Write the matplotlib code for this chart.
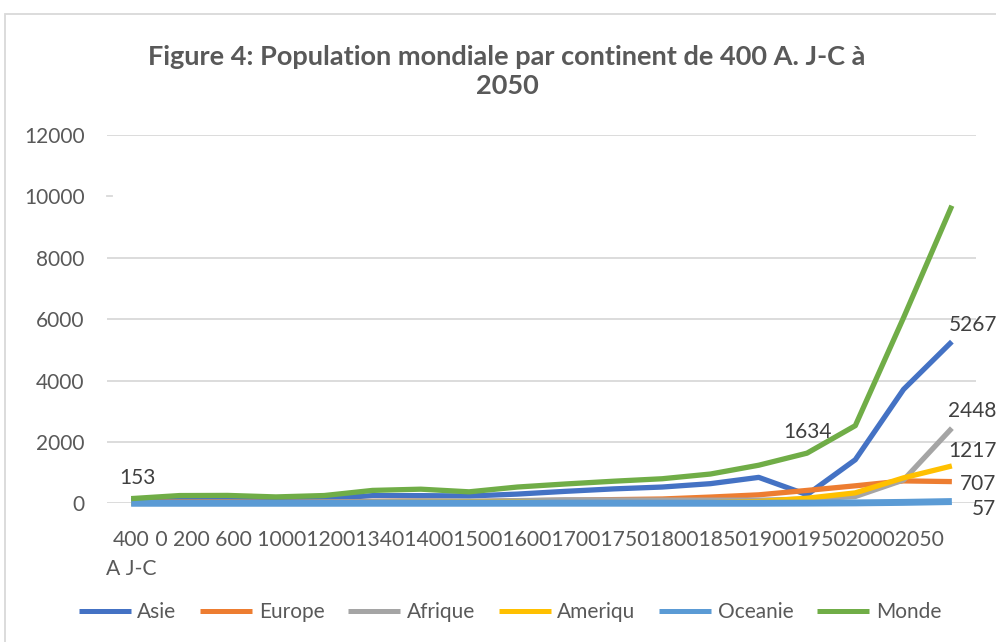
import matplotlib.pyplot as plt
from matplotlib.patches import Rectangle

# Population par continent (millions d'habitants)
annees = ["400 A J-C", "0", "200", "600", "1000", "1200", "1340", "1400", "1500",
          "1600", "1700", "1750", "1800", "1850", "1900", "1950", "2000", "2050"]
asie = [95, 170, 158, 134, 152, 250, 250, 238, 300, 390, 470, 530, 640, 845, 280, 1420, 3713, 5267]
europe = [32, 43, 46, 26, 43, 61, 74, 52, 81, 100, 120, 140, 203, 276, 420, 570, 730, 707]
afrique = [17, 26, 30, 24, 39, 48, 80, 68, 87, 113, 107, 104, 102, 102, 138, 221, 760, 2448]
amerique = [8, 12, 11, 16, 18, 26, 32, 39, 42, 13, 12, 18, 24, 59, 165, 340, 830, 1217]
oceanie = [1, 1, 1, 1, 1, 2, 2, 2, 3, 3, 3, 2, 2, 2, 6, 13, 30, 57]
monde = [153, 252, 257, 208, 253, 420, 460, 374, 530, 630, 720, 800, 954, 1241, 1634, 2530, 6050, 9696]

series = [("Asie", asie, "#4472C4"),
          ("Europe", europe, "#ED7D31"),
          ("Afrique", afrique, "#A5A5A5"),
          ("Ameriqu", amerique, "#FFC000"),
          ("Oceanie", oceanie, "#5B9BD5"),
          ("Monde", monde, "#70AD47")]

plt.rcParams['font.family'] = ['Lato', 'DejaVu Sans']
gris = '#595959'

fig = plt.figure(figsize=(9.96, 6.42), dpi=100)
ax = fig.add_axes([107/996, 1 - 503.3/642, 869/996, 368.3/642])

x = list(range(len(annees)))
for nom, valeurs, couleur in series:
    lw = 5.0 if nom == "Oceanie" else 3.8
    ax.plot(x, valeurs, color=couleur, lw=lw, label=nom, clip_on=False,
            solid_capstyle='butt', solid_joinstyle='round', zorder=3)

ax.set_xlim(-0.5, len(annees) - 0.5)
ax.set_ylim(0, 12000)
ax.set_yticks(range(0, 12001, 2000))
ax.set_xticks([])
ax.tick_params(axis='y', length=0, pad=16, labelsize=15, labelcolor=gris)
for s in ax.spines.values():
    s.set_visible(False)

# quadrillage (la ligne 10000 n'apparait qu'en amorce)
for v in [0, 2000, 4000, 6000, 8000, 12000]:
    ax.axhline(v, color='#D9D9D9', lw=1.3, zorder=1)
ax.plot([-0.5, -0.4], [10000, 10000], color='#D9D9D9', lw=1.3, zorder=1, clip_on=False)

# étiquettes de l'axe horizontal, collées les unes aux autres
premier, _, second = annees[0].partition(" ")
t0 = ax.text(0, -0.0997, premier, transform=ax.get_xaxis_transform(),
             ha='center', va='center', fontsize=15.2, color=gris)
ax.text(0, -0.178, second, transform=ax.get_xaxis_transform(),
        ha='center', va='center', fontsize=15.2, color=gris)
fig.canvas.draw()
bb = t0.get_window_extent()
reste = " " + " ".join(annees[1:4]) + " " + "".join(annees[4:])
fig.text(bb.x1 / fig.bbox.width, (bb.y0 + bb.y1) / 2 / fig.bbox.height, reste,
         ha='left', va='center', fontsize=15.2, color=gris)

# étiquettes de données
etiquettes = [
    (0, monde[0], (4.3, 15.1), 'center'),
    (14, monde[14], (0, 15.1), 'center'),
    (17, asie[17], (-2.5, 12.2), 'left'),
    (17, afrique[17], (-2.5, 12.7), 'left'),
    (17, amerique[17], (-2.5, 10.8), 'left'),
    (17, europe[17], (6.0, -1.4), 'left'),
    (17, oceanie[17], (14.5, -5.3), 'left'),
]
for i, v, dxy, ha in etiquettes:
    ax.annotate(str(v), (i, v), xytext=dxy, textcoords='offset points',
                ha=ha, va='center', fontsize=15, color='#404040', annotation_clip=False)

fig.text(507/996, 1 - 71.5/642,
         "Figure 4: Population mondiale par continent de 400 A. J-C à\n2050",
         ha='center', va='center', fontsize=19.5, fontweight='bold', color=gris,
         linespacing=1.28)

leg = ax.legend(loc='center', bbox_to_anchor=(510/996, 1 - 612/642),
                bbox_transform=fig.transFigure, ncol=6, frameon=False, fontsize=15,
                handlelength=2.5, handletextpad=0.3, columnspacing=1.15)
for t in leg.get_texts():
    t.set_color(gris)
for h in leg.get_lines():
    h.set_linewidth(3.6)

fig.add_artist(Rectangle((5/996, -0.05), 1.1, 1 - 14/642 + 0.05, transform=fig.transFigure,
                         fill=False, ec='#D9D9D9', lw=1.3))

fig.savefig("out.png", dpi=100)
